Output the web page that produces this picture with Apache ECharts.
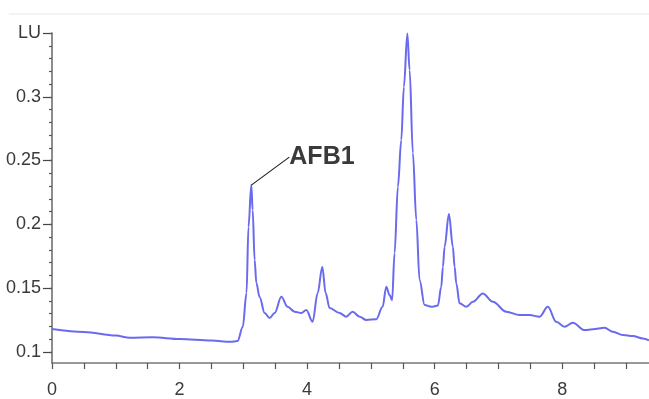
<!DOCTYPE html>
<html>
<head>
<meta charset="utf-8">
<script src="https://cdn.jsdelivr.net/npm/echarts@6.0.0/dist/echarts.min.js"></script>
<style>
  html, body { margin: 0; padding: 0; background: #fff; }
  #chart { width: 649px; height: 399px; }
</style>
</head>
<body>
<div id="chart"></div>
<script>
// retention time (min)
var times = [
  0, 0.5, 1.0, 1.22, 1.58, 2.0, 2.5, 2.8, 2.91, 2.99,
  3.05, 3.08, 3.125, 3.146, 3.177, 3.204, 3.255, 3.334, 3.412, 3.49,
  3.596, 3.694, 3.804, 3.909, 3.987, 4.086, 4.165, 4.238, 4.29, 4.353,
  4.509, 4.614, 4.713, 4.823, 4.928, 5.085, 5.183, 5.241, 5.293, 5.332,
  5.371, 5.423, 5.476, 5.517, 5.571, 5.607, 5.658, 5.712, 5.763, 5.842,
  5.947, 6.05, 6.103, 6.129, 6.155, 6.223, 6.285, 6.312, 6.339, 6.39,
  6.495, 6.599, 6.755, 6.912, 7.122, 7.331, 7.487, 7.644, 7.774, 7.906,
  8.036, 8.166, 8.35, 8.48, 8.663, 8.793, 8.95, 9.107, 9.263, 9.36
];
// detector response (LU)
var signal = [
  0.1178, 0.1155, 0.1127, 0.1110, 0.1113, 0.1100, 0.1088, 0.1078, 0.1084, 0.1194,
  0.1460, 0.1978, 0.2307, 0.2111, 0.1719, 0.1539, 0.1429, 0.1304, 0.1264, 0.1304,
  0.1431, 0.1353, 0.1314, 0.1304, 0.1327, 0.1235, 0.1460, 0.1667, 0.1460, 0.1343,
  0.1304, 0.1275, 0.1314, 0.1275, 0.1249, 0.1256, 0.1353, 0.1510, 0.1445, 0.1405,
  0.1774, 0.2294, 0.2660, 0.3078, 0.3497, 0.3209, 0.2558, 0.2033, 0.1562, 0.1366,
  0.1353, 0.1362, 0.1510, 0.1667, 0.1824, 0.2080, 0.1824, 0.1667, 0.1536, 0.1380,
  0.1353, 0.1392, 0.1458, 0.1392, 0.1314, 0.1288, 0.1288, 0.1275, 0.1353, 0.1235,
  0.1196, 0.1227, 0.1170, 0.1176, 0.1188, 0.1157, 0.1131, 0.1123, 0.1105, 0.1090
];
var peakName = 'AFB1';
var peakIndex = 12;

var xTicks = [0, 0.5, 1, 1.5, 2, 2.5, 3, 3.5, 4, 4.5, 5, 5.5, 6, 6.5, 7, 7.5, 8, 8.5, 9];
var xLabels = [0, 2, 4, 6, 8];
var yLabels = [0.1, 0.15, 0.2, 0.25, 0.3, 0.35];
var yMinorTicks = [
  0.1, 0.11, 0.12, 0.13, 0.14, 0.15, 0.16, 0.17, 0.18, 0.19, 0.2, 0.21, 0.22,
  0.23, 0.24, 0.25, 0.26, 0.27, 0.28, 0.29, 0.3, 0.31, 0.32, 0.33, 0.34, 0.35
];

var labelFont = 'Liberation Sans Narrow, Arial Narrow, sans-serif';

var chart = echarts.init(document.getElementById('chart'), null, {renderer: 'canvas'});

var seriesData = times.map(function (t, i) {
  var item = {value: [t, signal[i]]};
  if (i === peakIndex) {
    item.label = {
      show: true,
      formatter: peakName,
      position: 'right',
      distance: 0,
      padding: [0, 0, 0, 8],
      fontFamily: 'Liberation Sans, Arial, sans-serif',
      fontSize: 25,
      fontWeight: 'bold',
      color: '#3a3a3a'
    };
    item.labelLine = {show: true, lineStyle: {color: '#222', width: 1.2}};
  }
  return item;
});

chart.setOption({
  animation: false,
  grid: {left: 52, right: 0, top: 33, bottom: 36, containLabel: false},
  graphic: [{
    type: 'line',
    shape: {x1: 9, y1: 14, x2: 649, y2: 14},
    style: {stroke: '#e8e8e8', lineWidth: 1}
  }],
  xAxis: {
    type: 'value',
    min: 0,
    max: 9.36,
    splitLine: {show: false},
    axisLine: {show: true, lineStyle: {color: '#777', width: 1.5}},
    axisTick: {show: true, customValues: xTicks, length: 6, lineStyle: {color: '#555', width: 1.2}},
    axisLabel: {
      customValues: xLabels,
      margin: 18,
      fontFamily: labelFont,
      fontSize: 18,
      color: '#3a3a3a'
    }
  },
  yAxis: [{
    type: 'value',
    min: 0.0912,
    max: 0.35,
    splitLine: {show: false},
    axisLine: {show: true, lineStyle: {color: '#666', width: 1.5}},
    axisTick: {show: true, customValues: yLabels, length: 9, lineStyle: {color: '#444', width: 1.2}},
    axisLabel: {
      customValues: yLabels,
      margin: 11,
      fontFamily: labelFont,
      fontSize: 18,
      color: '#3a3a3a',
      formatter: function (v) { return v >= 0.349 ? 'LU' : String(v); }
    }
  }, {
    type: 'value',
    position: 'left',
    min: 0.0912,
    max: 0.35,
    splitLine: {show: false},
    axisLine: {show: false},
    axisTick: {show: true, customValues: yMinorTicks, length: 3, lineStyle: {color: '#555', width: 1.2}},
    axisLabel: {show: false}
  }],
  series: [{
    type: 'line',
    data: seriesData,
    showSymbol: true,
    showAllSymbol: true,
    symbol: 'circle',
    symbolSize: 0,
    smooth: 0.35,
    smoothMonotone: 'x',
    lineStyle: {color: '#6a6aee', width: 2},
    labelLayout: {dx: 30, dy: -28},
    z: 3
  }]
});
</script>
</body>
</html>
